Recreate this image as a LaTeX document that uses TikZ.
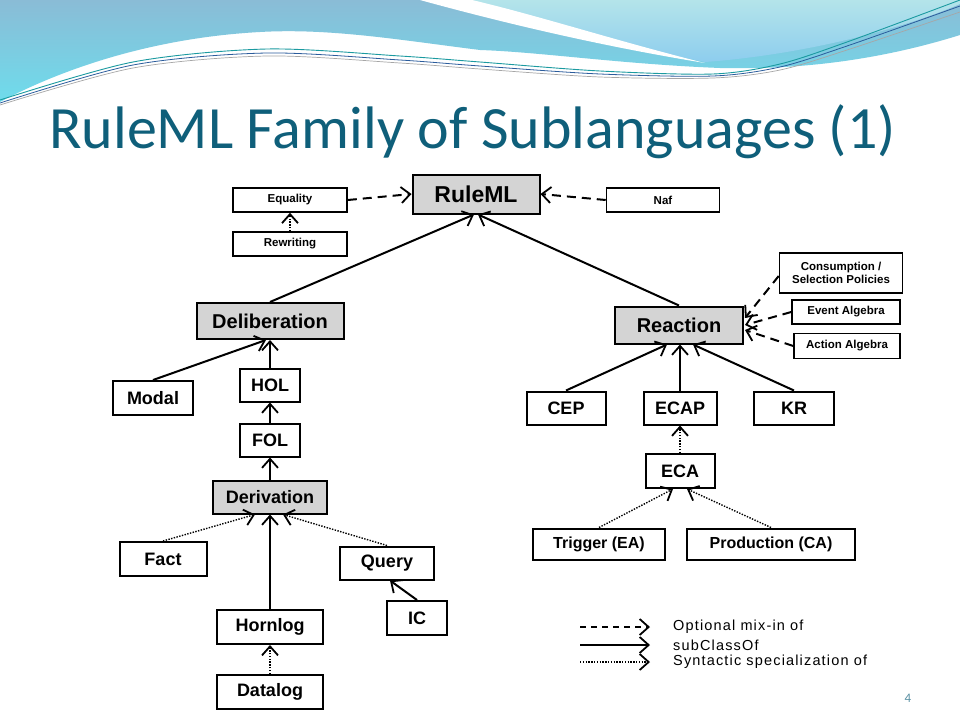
\documentclass[tikz,border=0pt]{standalone}
\usepackage{fontspec}
\setsansfont{Liberation Sans}
\newfontfamily\titlefont{Carlito}
\newfontfamily\legendfont[LetterSpace=8]{Liberation Sans}
\usetikzlibrary{arrows.meta,calc}
\definecolor{titlecol}{HTML}{0F5F7A}
\definecolor{boxgray}{HTML}{D4D4D4}
\definecolor{bandtop}{HTML}{8ABCD6}
\definecolor{bandbot}{HTML}{6EDCEC}
\definecolor{lighttop}{HTML}{B4E4EA}
\definecolor{lightbot}{HTML}{8DCDEE}
\definecolor{lineteal}{HTML}{1B9AA0}
\definecolor{linenavy}{HTML}{2B5C9C}
\begin{document}
\begin{tikzpicture}[x=1pt,y=-1pt,
  fsz/.style={font=\sffamily\bfseries\fontsize{#1}{#1}\selectfont},
  bx/.style={draw, line width=2pt, fill=white, inner sep=0pt, align=center},
  gbx/.style={bx, fill=boxgray},
  sbx/.style={draw, line width=1.6pt, fill=white, inner sep=0pt, align=center, fsz=11.5},
  tip/.style={-{Straight Barb[length=9pt,width=16pt,line width=1.8pt]}},
  sub/.style={tip, line width=2pt},
  mix/.style={tip, line width=2pt, dash pattern=on 9pt off 6pt},
  syn/.style={tip, line width=1.4pt, dash pattern=on 1.4pt off 1.4pt}]
\useasboundingbox (0,0) rectangle (960,720);
\fill[white] (0,0) rectangle (960,720);
% header waves
\shade[top color=bandtop, bottom color=bandbot]
  (0,0) -- (960,0) -- (960,35)
  .. controls (880,60) and (800,70) .. (720,68)
  .. controls (620,64) and (540,52) .. (480,50)
  .. controls (400,40) and (330,28) .. (260,32)
  .. controls (150,38) and (60,70) .. (0,102) -- cycle;
\shade[top color=lighttop, bottom color=lightbot]
  (470,0) .. controls (540,18) and (620,45) .. (705,62)
  .. controls (800,55) and (900,30) .. (960,4) -- (960,0) -- cycle;
\fill[white]
  (420,0) .. controls (500,22) and (600,46) .. (705,63)
  .. controls (620,42) and (540,16) .. (472,0) -- cycle;
\draw[lineteal, line width=0.9pt] plot[smooth] coordinates
  {(0,100) (133,62) (267,49) (400,56) (480,62) (600,71) (713,74) (780,64) (847,42) (960,0)};
\draw[linenavy, line width=0.8pt] plot[smooth] coordinates
  {(0,103) (133,65) (267,53) (400,60) (480,66) (600,74) (713,76) (780,67) (847,46) (960,6)};
\draw[gray!70, line width=0.7pt] plot[smooth] coordinates
  {(0,105) (133,68) (267,56) (400,63) (480,69) (600,77) (713,78) (780,70) (847,50) (960,12)};
% title
\node[anchor=base west, inner sep=0pt, text=titlecol, font=\titlefont\fontsize{60}{60}\selectfont]
  (title) at (49,148) {RuleML Family of Sublanguages (1)};
\node[anchor=base, inner sep=0pt, text=titlecol!70, font=\titlefont\fontsize{13}{13}\selectfont]
  (pnum) at (908,702) {4};
% nodes
\node[gbx, fsz=23, minimum width=127pt, minimum height=39pt] (rul) at (476,194) {RuleML};
\node[sbx, minimum width=114pt, minimum height=24pt] (eq) at (290,200) {Equality};
\node[sbx, minimum width=114pt, minimum height=24pt] (rew) at (290,244) {Rewriting};
\node[sbx, minimum width=113pt, minimum height=24pt] (naf) at (663,200) {Naf};
\node[gbx, fsz=20, minimum width=147pt, minimum height=36pt] (del) at (270,321) {Deliberation};
\node[gbx, fsz=20, minimum width=128pt, minimum height=37pt] (rea) at (679,325) {Reaction};
\node[sbx, minimum width=123pt, minimum height=40pt] (cons) at (841,273) {Consumption /\\[1pt]Selection Policies};
\node[sbx, minimum width=108pt, minimum height=24pt] (ev) at (846,312) {Event Algebra};
\node[sbx, minimum width=106pt, minimum height=25pt] (act) at (847,346) {Action Algebra};
\node[bx, fsz=18, minimum width=80pt, minimum height=34pt] (mod) at (153,398) {Modal};
\node[bx, fsz=18, minimum width=60pt, minimum height=33pt] (hol) at (270,385) {HOL};
\node[bx, fsz=18, minimum width=60pt, minimum height=33pt] (fol) at (270,440) {FOL};
\node[gbx, fsz=18, minimum width=114pt, minimum height=33pt] (der) at (270,497) {Derivation};
\node[bx, fsz=18, minimum width=87pt, minimum height=34pt] (fact) at (163,559) {Fact};
\node[bx, fsz=18, minimum width=94pt, minimum height=33pt] (que) at (387,563) {Query};
\node[bx, fsz=18, minimum width=60pt, minimum height=34pt] (ic) at (417,618) {IC};
\node[bx, fsz=18, minimum width=106pt, minimum height=34pt] (horn) at (270,627) {Hornlog};
\node[bx, fsz=18, minimum width=106pt, minimum height=34pt] (dat) at (270,692) {Datalog};
\node[bx, fsz=18, minimum width=79pt, minimum height=33pt] (cep) at (566,408) {CEP};
\node[bx, fsz=18, minimum width=73pt, minimum height=33pt] (ecap) at (680,408) {ECAP};
\node[bx, fsz=18, minimum width=80pt, minimum height=33pt] (kr) at (794,408) {KR};
\node[bx, fsz=18, minimum width=69pt, minimum height=34pt] (eca) at (680,471) {ECA};
\node[bx, fsz=16, minimum width=132pt, minimum height=31pt] (trig) at (599,544) {Trigger (EA)};
\node[bx, fsz=16, minimum width=168pt, minimum height=31pt] (prod) at (771,544) {Production (CA)};
% connectors
\draw[mix] (eq.east) -- (rul.west);
\draw[mix] (naf.west) -- (rul.east);
\draw[syn] (rew.north) -- (eq.south);
\draw[sub] (del.north) -- ($(rul.south)+(-2,0)$);
\draw[sub] (rea.north) -- ($(rul.south)+(2,0)$);
\draw[sub] (mod.north) -- ($(del.south)+(-4,0)$);
\draw[sub] (hol.north) -- (del.south);
\draw[sub] (fol.north) -- (hol.south);
\draw[sub] (der.north) -- (fol.south);
\draw[syn] (fact.north) -- ($(der.south)+(-15,0)$);
\draw[sub] (horn.north) -- (der.south);
\draw[syn] (que.north) -- ($(der.south)+(13,0)$);
\draw[sub] (ic.north) -- ($(que.south)+(3,0)$);
\draw[syn] (dat.north) -- (horn.south);
\draw[mix] ($(cons.west)+(0,3)$) -- ($(rea.east)+(1,-7)$);
\draw[mix] (ev.west) -- ($(rea.east)+(1,0)$);
\draw[mix] (act.west) -- ($(rea.east)+(1,5)$);
\draw[sub] (cep.north) -- ($(rea.south)+(-12,0)$);
\draw[sub] (ecap.north) -- ($(rea.south)+(1,0)$);
\draw[sub] (kr.north) -- ($(rea.south)+(14,0)$);
\draw[syn] (eca.north) -- (ecap.south);
\draw[syn] (trig.north) -- ($(eca.south)+(-7,0)$);
\draw[syn] (prod.north) -- ($(eca.south)+(7,0)$);
% legend
\coordinate (l1a) at (580,627); \coordinate (l1b) at (650,627);
\coordinate (l2a) at (580,645); \coordinate (l2b) at (650,645);
\coordinate (l3a) at (580,662); \coordinate (l3b) at (650,662);
\draw[mix, line width=1.6pt, dash pattern=on 6pt off 5pt] (l1a) -- (l1b);
\draw[sub, line width=1.6pt] (l2a) -- (l2b);
\draw[syn] (l3a) -- (l3b);
\node[anchor=west, inner sep=0pt, font=\legendfont\fontsize{14.5}{14.5}\selectfont] (lg1) at (673,627) {Optional mix-in of};
\node[anchor=west, inner sep=0pt, font=\legendfont\fontsize{14.5}{14.5}\selectfont] (lg2) at (673,645) {subClassOf};
\node[anchor=west, inner sep=0pt, font=\legendfont\fontsize{14.5}{14.5}\selectfont] (lg3) at (673,662) {Syntactic specialization of};
\end{tikzpicture}
\end{document}
